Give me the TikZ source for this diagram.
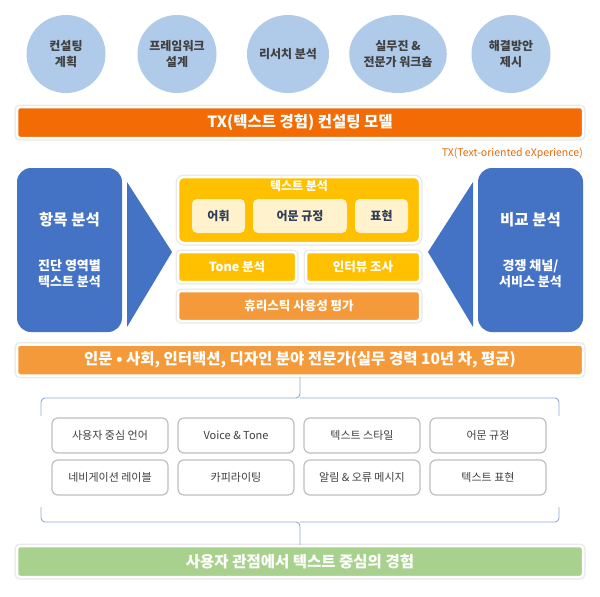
\documentclass[tikz,border=0pt]{standalone}
\usepackage{fontspec}
\setmainfont{Noto Sans CJK KR}
\usetikzlibrary{shapes.geometric}
\definecolor{circC}{HTML}{B0CBE9}
\definecolor{orangeA}{HTML}{F26B05}
\definecolor{orangeB}{HTML}{F59A3A}
\definecolor{noteC}{HTML}{E46C0A}
\definecolor{blueA}{HTML}{4472C4}
\definecolor{yellowA}{HTML}{FFC000}
\definecolor{creamA}{HTML}{FFF2CC}
\definecolor{greenA}{HTML}{A9D18E}
\definecolor{braceC}{HTML}{8FAACC}
\definecolor{boxline}{HTML}{BFBFBF}
\definecolor{txtdark}{HTML}{404040}
\definecolor{navy}{HTML}{2F3D5A}
\newcommand\fsz[2]{\fontsize{#1}{#2}\selectfont}
\tikzset{
  circnode/.style={ellipse, fill=circC, minimum width=79, minimum height=78, inner sep=0,
    align=center, text=txtdark, font=\fsz{12}{15.5}\bfseries},
  glow/.style={rounded corners=3, preaction={draw=black!9, line width=5}, draw=white, line width=2.5},
  bar/.style={glow, minimum width=566, minimum height=31, inner sep=0, text=white, font=\fsz{15.5}{18}\bfseries},
  bluebox/.style={rounded corners=14, fill=blueA, minimum width=105, minimum height=164, inner sep=0},
  bluetitle/.style={text=white, font=\fsz{15.5}{18}\bfseries, inner sep=0},
  bluesub/.style={text=white, font=\fsz{13}{16}\bfseries, align=center, inner sep=0},
  arrowtri/.style={fill=blueA},
  subbox/.style={rounded corners=5, fill=creamA, minimum height=34, inner sep=0, text=navy, font=\fsz{12}{14}\bfseries},
  midbox/.style={glow, minimum height=30, inner sep=0, text=white, font=\fsz{12.5}{15}\bfseries},
  itembox/.style={rounded corners=6, draw=boxline, line width=1.2, fill=white, minimum width=116,
    minimum height=35, inner sep=0, text=txtdark, font=\fsz{11}{13}},
  bracel/.style={draw=braceC, line width=0.9, rounded corners=4},
}
\begin{document}
\begin{tikzpicture}[x=1pt,y=-1pt]
\useasboundingbox (0,0) rectangle (600,597);
% circles
\node[circnode] (c1) at (66,54) {컨설팅\\계획};
\node[circnode] (c2) at (177,54) {프레임워크\\설계};
\node[circnode] (c3) at (288,54) {리서치 분석};
\node[circnode] (c4) at (398,54) {실무진 \&\\전문가 워크숍};
\node[circnode] (c5) at (511,54) {해결방안\\제시};
% bar 1
\node[bar, fill=orangeA] (tx) at (300,122.5) {TX(텍스트 경험) 컨설팅 모델};
\node[anchor=east, inner sep=0, text=noteC, font=\fsz{10.5}{12}] (txnote) at (583,153) {TX(Text-oriented eXperience)};
% left blue
\node[bluebox] (lb) at (69.5,250) {};
\node[bluetitle] (lbt) at (69.5,220) {항목 분석};
\node[bluesub] (lbs) at (69.5,274) {진단 영역별\\텍스트 분석};
\fill[arrowtri] (127,182) -- (172,252) -- (127,327) -- cycle;
% right blue
\node[bluebox] (rb) at (530.5,250) {};
\node[bluetitle] (rbt) at (530.5,220) {비교 분석};
\node[bluesub] (rbs) at (530.5,274) {경쟁 채널/\\서비스 분석};
\fill[arrowtri] (473,182) -- (428,252) -- (473,327) -- cycle;
% middle
\node[glow, rounded corners=6, fill=yellowA, minimum width=242, minimum height=66, inner sep=0] (ta) at (299,210) {};
\node[inner sep=0, text=white, font=\fsz{12}{14}\bfseries] (tat) at (299,186) {텍스트 분석};
\node[subbox, minimum width=53] (s1) at (218.5,216) {어휘};
\node[subbox, minimum width=94] (s2) at (300,216) {어문 규정};
\node[subbox, minimum width=53] (s3) at (381.5,216) {표현};
\node[midbox, fill=yellowA, minimum width=118] (tone) at (237,267) {Tone 분석};
\node[midbox, fill=yellowA, minimum width=114] (intv) at (363,267) {인터뷰 조사};
\node[midbox, fill=orangeB, minimum width=242] (heur) at (299,306) {휴리스틱 사용성 평가};
% bar 2
\node[bar, fill=orangeB] (exp) at (300,360) {인문 • 사회, 인터랙션, 디자인 분야 전문가(실무 경력 10년 차, 평균)};
% item boxes
\node[itembox] (i1) at (110,435.5) {사용자 중심 언어};
\node[itembox] (i2) at (236,435.5) {Voice \& Tone};
\node[itembox] (i3) at (362,435.5) {텍스트 스타일};
\node[itembox] (i4) at (488,435.5) {어문 규정};
\node[itembox] (i5) at (110,477.5) {네비게이션 레이블};
\node[itembox] (i6) at (236,477.5) {카피라이팅};
\node[itembox] (i7) at (362,477.5) {알림 \& 오류 메시지};
\node[itembox] (i8) at (488,477.5) {텍스트 표현};
% bar 3
\node[bar, fill=greenA] (ux) at (300,561.5) {사용자 관점에서 텍스트 중심의 경험};
% braces
\coordinate (bt) at (300,398);
\coordinate (btl) at (41,416);
\coordinate (btr) at (559,416);
\draw[bracel] (btl) -- (btl |- bt) -- (bt) -- (exp.south);
\draw[bracel] (btr) -- (btr |- bt) -- (bt);
\coordinate (bb) at (300,522);
\coordinate (bbl) at (41,507);
\coordinate (bbr) at (559,507);
\draw[bracel] (bbl) -- (bbl |- bb) -- (bb) -- (ux.north);
\draw[bracel] (bbr) -- (bbr |- bb) -- (bb);
\end{tikzpicture}
\end{document}
